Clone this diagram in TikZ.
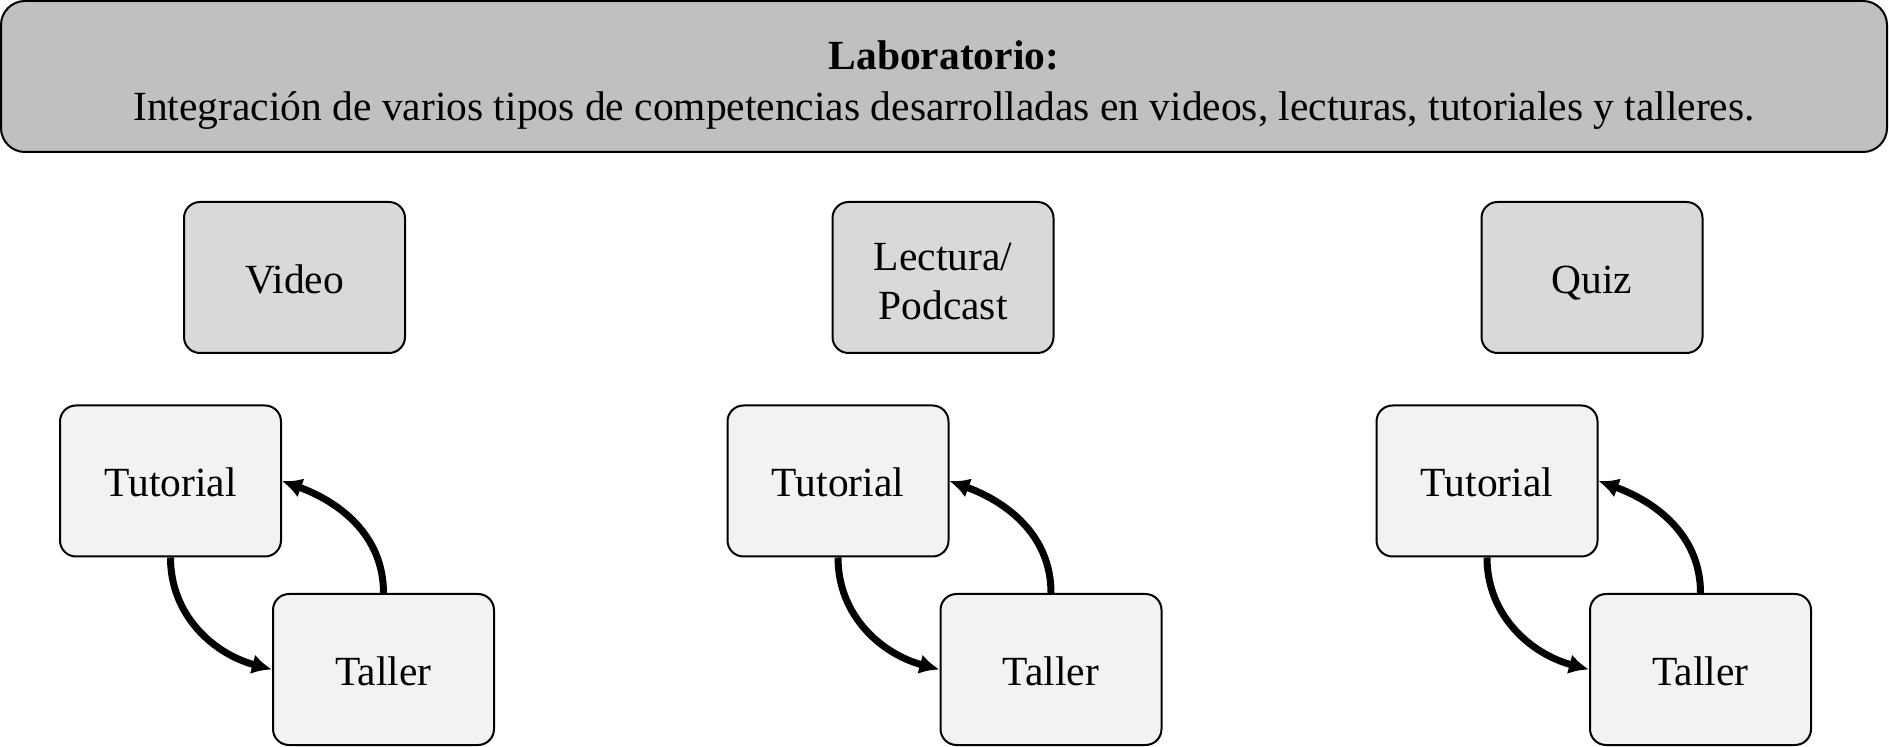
\documentclass[tikz,border=0pt]{standalone}
\usepackage{fontspec}
\setmainfont{Liberation Serif}
\usepackage{tikz}
\usetikzlibrary{arrows.meta,positioning}

\definecolor{labgray}{HTML}{C0C0C0}
\definecolor{midgray}{HTML}{D9D9D9}
\definecolor{lowgray}{HTML}{F2F2F2}

\newcommand{\boxstrut}{\rule[-4pt]{0pt}{24pt}}
\newcommand{\labstrut}{\rule[-4pt]{0pt}{26.5pt}}
\newcommand{\twostrut}{\rule[-4pt]{0pt}{25.5pt}}

\tikzset{
  base/.style={draw, line width=1pt, rounded corners=8pt, align=center,
    font=\fontsize{20.75}{25.5}\selectfont, inner sep=0pt},
  lab/.style={base, fill=labgray, rounded corners=12pt,
    minimum width=943pt, minimum height=75.5pt},
  source/.style={base, fill=midgray, minimum width=110.5pt, minimum height=75.5pt},
  act/.style={base, fill=lowgray, minimum width=110.5pt, minimum height=75.5pt},
  loop/.style={line width=3.5pt, -{Latex[length=10pt,width=10pt]}}
}

\begin{document}
\begin{tikzpicture}[x=0.5pt,y=-0.5pt]
		\useasboundingbox (0,0) rectangle (1889,747);

		\draw (944,76.5) node [lab] (lab) {\labstrut\textbf{Laboratorio:}\\\boxstrut Integración de varios tipos de competencias desarrolladas en videos, lecturas, tutoriales y talleres.};

		\draw (294.5,277.5) node [source] (video) {\boxstrut Video};
		\draw (943,277.5) node [source, font=\fontsize{20.75}{24.7}\selectfont] (lectura) {\twostrut Lectura/\\\boxstrut Podcast};
		\draw (1592,277.5) node [source] (quiz) {\boxstrut Quiz};

		\draw (170.5,481) node [act] (tut1) {\boxstrut Tutorial};
		\draw (383.5,669.5) node [act] (tal1) {\boxstrut Taller};
		\draw (838,481) node [act] (tut2) {\boxstrut Tutorial};
		\draw (1051,669.5) node [act] (tal2) {\boxstrut Taller};
		\draw (1487,481) node [act] (tut3) {\boxstrut Tutorial};
		\draw (1700.5,669.5) node [act] (tal3) {\boxstrut Taller};

		\foreach \i in {1,2,3} {
			\draw [loop] (tut\i.south) to [out=-90,in=165] (tal\i.west);
			\draw [loop] (tal\i.north) to [out=90,in=-20] (tut\i.east);
		}
	\end{tikzpicture}
\end{document}
